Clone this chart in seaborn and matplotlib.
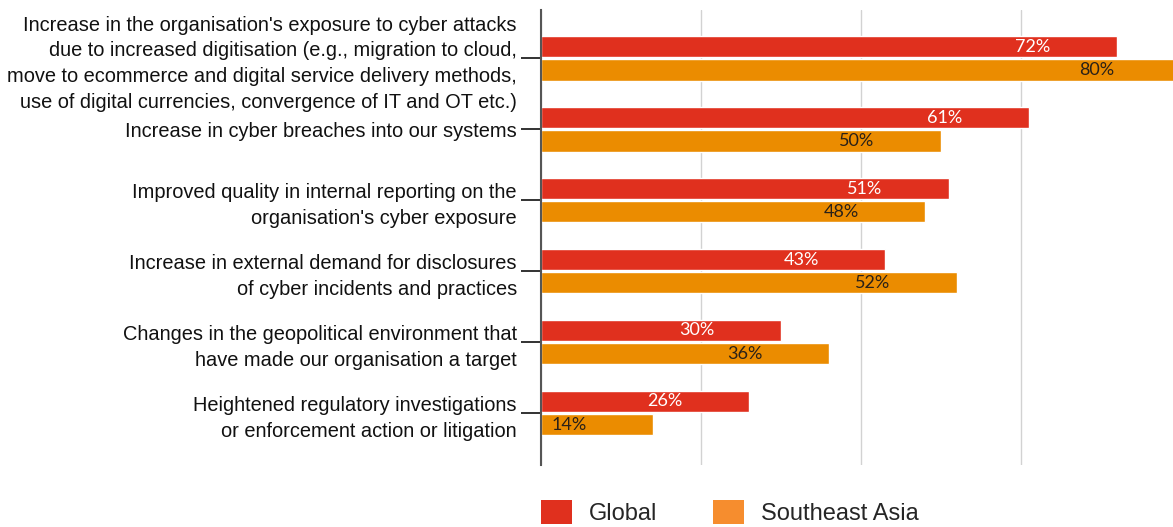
import matplotlib
matplotlib.use("Agg")
import matplotlib.pyplot as plt
from matplotlib.patches import Patch
import seaborn as sns
import pandas as pd

# Survey drivers and the share of respondents citing each one
categories = [
    "Increase in the organisation's exposure to cyber attacks\n"
    "due to increased digitisation (e.g., migration to cloud,\n"
    "move to ecommerce and digital service delivery methods,\n"
    "use of digital currencies, convergence of IT and OT etc.)",
    "Increase in cyber breaches into our systems",
    "Improved quality in internal reporting on the\n"
    "organisation's cyber exposure",
    "Increase in external demand for disclosures\n"
    "of cyber incidents and practices",
    "Changes in the geopolitical environment that\n"
    "have made our organisation a target",
    "Heightened regulatory investigations\n"
    "or enforcement action or litigation",
]
series = ["Global", "Southeast Asia"]
global_vals = [72, 61, 51, 43, 30, 26]
sea_vals = [80, 50, 48, 52, 36, 14]

bar_colors = {"Global": "#E0301E", "Southeast Asia": "#EB8C00"}
legend_colors = ["#E0301E", "#F68D2E"]

df = pd.DataFrame({
    "category": categories * 2,
    "series": [series[0]] * len(categories) + [series[1]] * len(categories),
    "value": global_vals + sea_vals,
})

sns.set_theme(style="white")
plt.rcParams["font.family"] = ["Liberation Sans", "DejaVu Sans"]

fig = plt.figure(figsize=(11.73, 5.27), dpi=100)
ax = fig.add_axes([541 / 1173, 62 / 527, 632 / 1173, 455 / 527])

sns.barplot(data=df, y="category", x="value", hue="series", orient="h",
            palette=bar_colors, width=0.66, gap=0.1, saturation=1,
            legend=False, ax=ax)

# value labels sit inside each bar, a fixed distance back from its end
label_colors = ["white", "#2a2118"]
for container, tc in zip(ax.containers, label_colors):
    for patch in container:
        v = patch.get_width()
        yc = patch.get_y() + patch.get_height() / 2
        ax.text(v - 10.5, yc, f"{v:.0f}%", ha="center", va="center",
                color=tc, fontsize=13, family=["Lato", "DejaVu Sans"])

ax.set_xlim(0, 79)
ax.set_ylim(5.73, -0.68)
ax.set_xticks([0, 20, 40, 60])
ax.grid(axis="x", color="#d2d2d2", lw=1)
ax.grid(axis="y", visible=False)
ax.set_axisbelow(True)
ax.set_xlabel("")
ax.set_ylabel("")
ax.tick_params(axis="x", bottom=False, labelbottom=False)
ax.tick_params(axis="y", left=True, length=14.4, width=1.3, pad=3,
               color="#222222", labelsize=14.4, labelcolor="#111111")
for lab in ax.get_yticklabels():
    lab.set_linespacing(1.45)
for side in ["top", "right", "bottom"]:
    ax.spines[side].set_visible(False)
ax.spines["left"].set_color("#555555")
ax.spines["left"].set_linewidth(1.5)

handles = [Patch(facecolor=c, edgecolor="none") for c in legend_colors]
fig.legend(handles, series, loc="lower left", bbox_to_anchor=(541 / 1173, 0.004),
           ncol=2, frameon=False, fontsize=17, handlelength=1.31, handleheight=1.15,
           handletextpad=0.72, columnspacing=2.37, borderpad=0, borderaxespad=0)

fig.savefig("out.png", dpi=100)
